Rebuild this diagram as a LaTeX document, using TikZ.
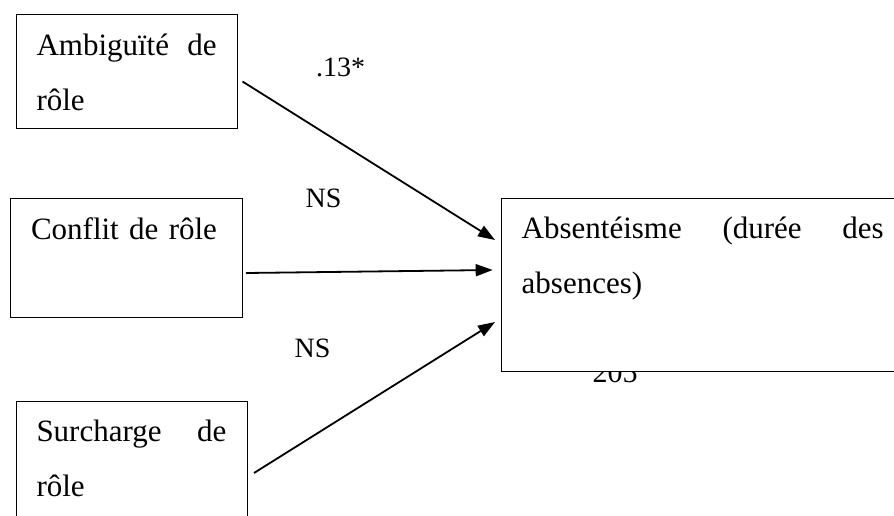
\documentclass[tikz,border=0pt]{standalone}
\usepackage{fontspec}
\setmainfont{Liberation Serif}
\usetikzlibrary{arrows.meta,positioning}
\newcommand\wordgap{\hskip 0pt plus 1fill\relax}

\begin{document}
\begin{tikzpicture}[x=1pt,y=-1pt,
    box/.style={draw,fill=white,line width=1pt,anchor=north west,
      inner xsep=20.5pt,inner ysep=0pt,align=left,
      font=\fontsize{31}{55}\selectfont},
    link/.style={line width=1.8pt,-{Triangle[length=17pt,width=12pt]}},
    lbl/.style={inner sep=0pt,anchor=base west,font=\fontsize{28}{34}\selectfont}]
  \clip (0,0) rectangle (894,515);
  % page number, half hidden by the box
  \node[lbl,anchor=base,font=\fontsize{30}{36}\selectfont] (pg) at (615,382) {205};
  % boxes
  \node[box,text width=180pt,text height=41pt,text depth=73pt] (amb) at (15.5,14)
    {Ambiguïté\wordgap de\\rôle};
  \node[box,text width=191pt,text height=41pt,text depth=78pt] (con) at (10,198)
    {Conflit de rôle};
  \node[box,text width=190pt,text height=40pt,text depth=120pt] (sur) at (15.5,401)
    {Surcharge\wordgap de\\rôle};
  \node[box,text width=362pt,text height=40pt,text depth=133pt] (abs) at (500.7,198)
    {Absentéisme\wordgap(durée\wordgap des\\absences)};
  % arrows
  \draw[link] ([shift={(5,10)}]amb.east) -- ([shift={(-5.7,42)}]abs.north west);
  \draw[link] ([shift={(3,15)}]con.east) -- ([shift={(-8,72)}]abs.north west);
  \draw[link] ([shift={(6.5,72)}]sur.north east) -- ([shift={(-5.7,124)}]abs.north west);
  % coefficients
  \node[lbl] (c1) at (316,76) {.13*};
  \node[lbl] (c2) at (305.5,207) {NS};
  \node[lbl] (c3) at (294.5,357) {NS};
\end{tikzpicture}
\end{document}
